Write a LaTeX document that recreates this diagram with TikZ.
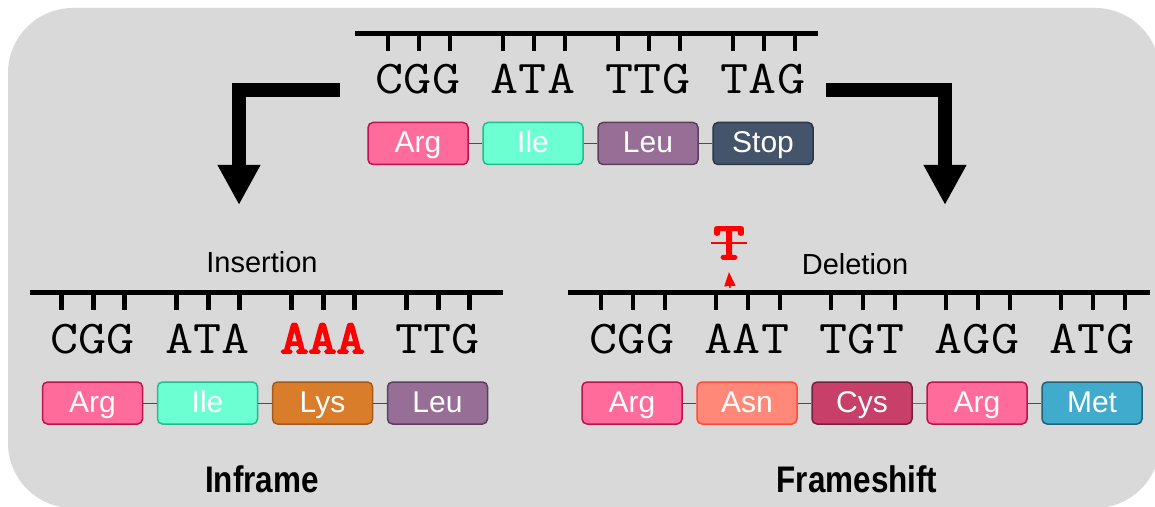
\documentclass[tikz,border=0pt]{standalone}
\usepackage{fontspec}
\setmainfont{Liberation Sans}
\newfontfamily\seqfont{Latin Modern Mono}[FakeStretch=1.16]
\newfontfamily\seqbold{Latin Modern Mono}[FakeStretch=1.16,FakeBold=4]
\newfontfamily\narrowfont{Liberation Sans}[FakeStretch=0.85]
\usetikzlibrary{positioning,arrows.meta}
\definecolor{bgfill}{HTML}{D9D9D9}
\definecolor{argF}{HTML}{FF6B9A}\definecolor{argD}{HTML}{C0124E}
\definecolor{ileF}{HTML}{6BFFD2}\definecolor{ileD}{HTML}{1DBF8C}
\definecolor{leuF}{HTML}{966E96}\definecolor{leuD}{HTML}{5C3F5C}
\definecolor{stopF}{HTML}{44546A}\definecolor{stopD}{HTML}{2B3648}
\definecolor{lysF}{HTML}{D97D2B}\definecolor{lysD}{HTML}{A35A1C}
\definecolor{asnF}{HTML}{FF8878}\definecolor{asnD}{HTML}{FF4A3A}
\definecolor{cysF}{HTML}{C8406A}\definecolor{cysD}{HTML}{7C1F3E}
\definecolor{metF}{HTML}{41ABCE}\definecolor{metD}{HTML}{1D6478}
\tikzset{
node distance=13.5pt,
aa/.style={draw,rectangle,rounded corners=5pt,line width=1.5pt,minimum width=100pt,minimum height=42pt,
  inner sep=0pt,text=white,text height=21.5pt,text depth=3pt,font=\fontsize{30}{30}\selectfont},
arg/.style={aa,fill=argF,draw=argD}, ile/.style={aa,fill=ileF,draw=ileD},
leu/.style={aa,fill=leuF,draw=leuD}, stp/.style={aa,fill=stopF,draw=stopD},
lys/.style={aa,fill=lysF,draw=lysD}, asn/.style={aa,fill=asnF,draw=asnD},
cys/.style={aa,fill=cysF,draw=cysD}, met/.style={aa,fill=metF,draw=metD},
codon/.style={font=\seqfont\fontsize{47}{47}\selectfont,inner sep=0pt,anchor=base},
hit/.style={codon,text=red,font=\seqbold\fontsize{47}{47}\selectfont},
link/.style={draw=black!70,line width=1pt},
bone/.style={line width=5pt},
tick/.style={line width=4.5pt},
caption/.style={font=\fontsize{29}{29}\selectfont,inner sep=0pt,anchor=base},
kind/.style={font=\narrowfont\bfseries\fontsize{37}{37}\selectfont,inner sep=0pt,anchor=base},
bigarrow/.style={line width=14pt,-{Triangle[width=40pt,length=40pt]}}
}
\begin{document}
\begin{tikzpicture}[x=1pt,y=1pt]
\useasboundingbox (0,0) rectangle (1155,506);
\fill[bgfill,rounded corners=65pt] (8,-2) rectangle (1160,498);

% wild type
\node[arg] (t1) at (418,362.5) {Arg};
\node[ile] (t2) [right=of t1]  {Ile};
\node[leu] (t3) [right=of t2]  {Leu};
\node[stp] (t4) [right=of t3]  {Stop};
\foreach \n/\s in {1/CGG,2/ATA,3/TTG,4/TAG}
  \node[codon] (tc\n) at ([yshift=49.5pt]t\n.center) {\s};
\draw[bone] ([xshift=-63pt,yshift=60pt]tc1.base) -- ([xshift=55pt,yshift=60pt]tc4.base);
\foreach \n in {1,...,4}
  \foreach \dx in {-30,1,32}
    \draw[tick] ([xshift=\dx pt,yshift=60pt]tc\n.base) -- ++(0,-17);
\path (t1) edge[link] (t2) (t2) edge[link] (t3) (t3) edge[link] (t4);

% arrows
\coordinate (ltop) at (340,416);
\coordinate (lend) at (239,301);
\coordinate (rtop) at (826,416);
\coordinate (rend) at (945,301);
\draw[bigarrow] (ltop) -| (lend);
\draw[bigarrow] (rtop) -| (rend);

% insertion
\node[arg] (i1) at (92.5,103) {Arg};
\node[ile] (i2) [right=of i1]  {Ile};
\node[lys] (i3) [right=of i2]  {Lys};
\node[leu] (i4) [right=of i3]  {Leu};
\foreach \n/\s in {1/CGG,2/ATA,4/TTG}
  \node[codon] (ic\n) at ([yshift=50pt]i\n.center) {\s};
\node[hit] (ic3) at ([yshift=50pt]i3.center) {AAA};
\draw[bone] ([xshift=-63pt,yshift=60pt]ic1.base) -- ([xshift=65pt,yshift=60pt]ic4.base);
\foreach \n in {1,...,4}
  \foreach \dx in {-31,1,32}
    \draw[tick] ([xshift=\dx pt,yshift=60pt]ic\n.base) -- ++(0,-17);
\path (i1) edge[link] (i2) (i2) edge[link] (i3) (i3) edge[link] (i4);
\node[caption] (ins) at (262,233) {Insertion};
\node[kind] (inf) at (262,14) {Inframe};

% deletion
\node[arg] (d1) at (632,103)  {Arg};
\node[asn] (d2) [right=of d1] {Asn};
\node[cys] (d3) [right=of d2] {Cys};
\node[arg] (d4) [right=of d3] {Arg};
\node[met] (d5) [right=of d4] {Met};
\foreach \n/\s in {1/CGG,2/AAT,3/TGT,4/AGG,5/ATG}
  \node[codon] (dc\n) at ([yshift=50pt]d\n.center) {\s};
\draw[bone] ([xshift=-64pt,yshift=60pt]dc1.base) -- ([xshift=58pt,yshift=60pt]dc5.base);
\foreach \n in {1,...,5}
  \foreach \dx in {-31,1,33}
    \draw[tick] ([xshift=\dx pt,yshift=60pt]dc\n.base) -- ++(0,-17);
\path (d1) edge[link] (d2) (d2) edge[link] (d3)
      (d3) edge[link,draw=cysF] (d4) (d4) edge[link] (d5);
\node[caption] (del) at (855,231) {Deletion};
\node[kind] (fs) at (857,14) {Frameshift};

% deleted base
\node[hit,anchor=center,font=\seqbold\fontsize{52}{52}\selectfont] (gone) at (729,263) {T};
\draw[red,line width=2pt] ([xshift=-2pt]gone.west) -- ([xshift=2pt]gone.east);
\coordinate (cut) at (730,218);
\draw[red,line width=1.5pt,-{Triangle[width=11pt,length=14pt]}] (cut) -- ([yshift=-13pt]gone.south);
\end{tikzpicture}
\end{document}
